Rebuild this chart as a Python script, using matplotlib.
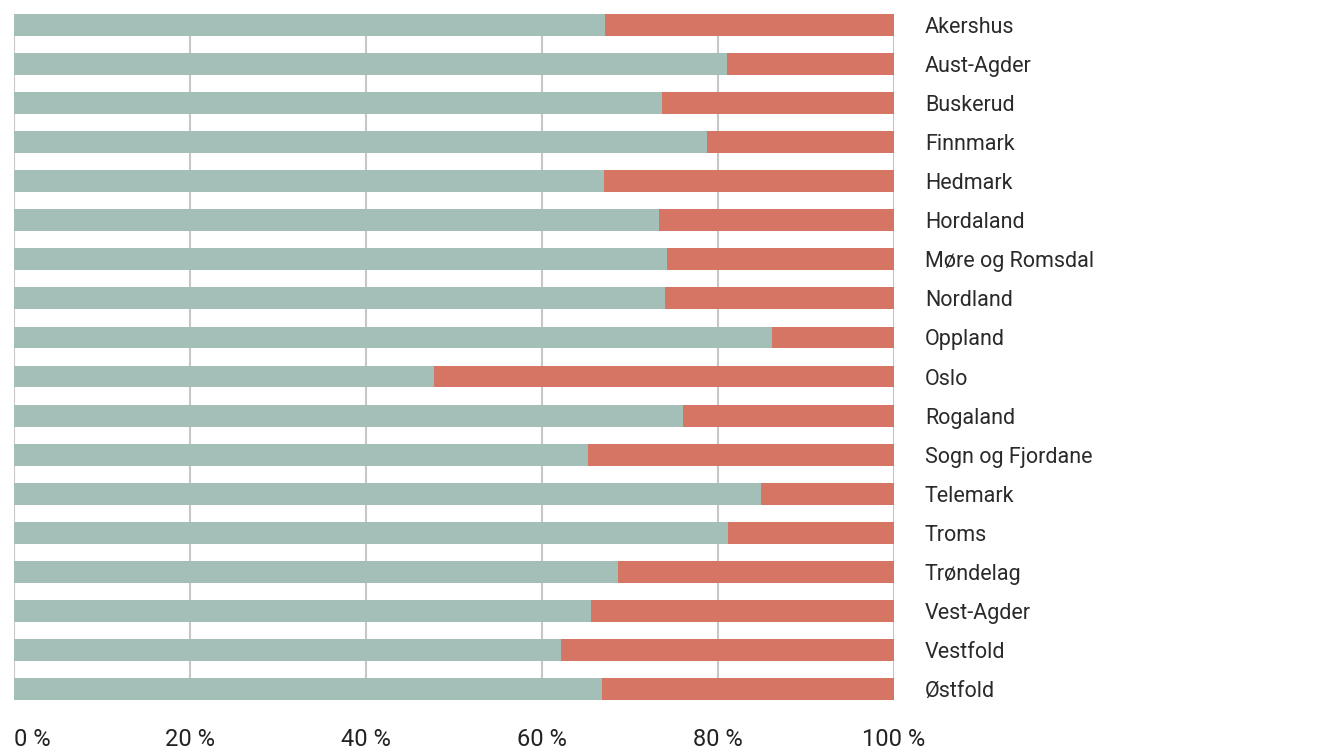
import matplotlib.pyplot as plt
import numpy as np

plt.rcParams['font.family'] = ['Roboto', 'DejaVu Sans']

# fylker and share (%) for first segment, rest fills to 100
fylker = ['Akershus', 'Aust-Agder', 'Buskerud', 'Finnmark', 'Hedmark', 'Hordaland',
          'Møre og Romsdal', 'Nordland', 'Oppland', 'Oslo', 'Rogaland',
          'Sogn og Fjordane', 'Telemark', 'Troms', 'Trøndelag', 'Vest-Agder',
          'Vestfold', 'Østfold']
andel = [67.2, 81.0, 73.6, 78.8, 67.0, 73.3, 74.2, 74.0, 86.1, 47.7, 76.0,
         65.2, 84.9, 81.1, 68.6, 65.6, 62.2, 66.8]
rest = [100 - a for a in andel]
ticks = [0, 20, 40, 60, 80, 100]
tick_labels = ['0 %', '20 %', '40 %', '60 %', '80 %', '100 %']

fig = plt.figure(figsize=(13.44, 7.54), dpi=100)
ax = fig.add_axes([14 / 1344, 54 / 754, 880 / 1344, 686 / 754])

y = np.arange(len(fylker))
h = 0.56
ax.barh(y, andel, height=h, color='#a4bfb7', zorder=2)
ax.barh(y, rest, left=andel, height=h, color='#d77565', zorder=2)

ax.set_xlim(0, 100)
ax.set_ylim(len(fylker) - 1 + h / 2, -h / 2)

# grid lines behind bars
for t in ticks:
    ax.axvline(t, color='#c6c6c6', lw=1.5, zorder=1)

for s in ax.spines.values():
    s.set_visible(False)

ax.set_yticks([])
ax.set_xticks(ticks)
ax.set_xticklabels(tick_labels, fontsize=17, color='#222222')
ax.tick_params(axis='x', length=0, pad=20)
ax.get_xticklabels()[0].set_ha('left')

for i, name in enumerate(fylker):
    ax.text(1.035, i, name, transform=ax.get_yaxis_transform(), va='center_baseline',
            ha='left', fontsize=15.5, color='#2a2a2a')

fig.savefig('out.png', dpi=100)
